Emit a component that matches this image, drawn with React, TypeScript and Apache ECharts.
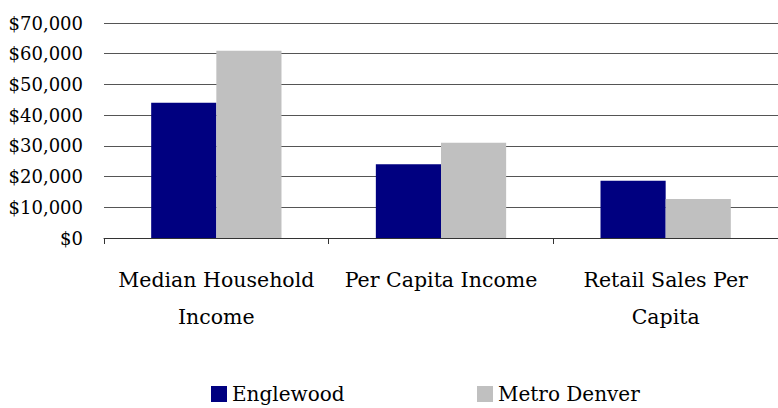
import React, { useEffect, useRef } from "react";
import * as echarts from "echarts";

const categories = ["Median Household\nIncome", "Per Capita Income", "Retail Sales Per\nCapita"];
const englewood = [44000, 24000, 18600];
const metroDenver = [61000, 31000, 12700];
const seriesNames = ["Englewood", "Metro Denver"];
const FONT = "DejaVu Serif";

export default function App() {
  const ref = useRef<HTMLDivElement>(null);
  useEffect(() => {
    if (!ref.current) return;
    const chart = echarts.init(ref.current, null, { renderer: "svg" });
    chart.setOption({
      animation: false,
      textStyle: { fontFamily: FONT },
      grid: { left: 104, right: 0, top: 23, bottom: 170 },
      legend: [
        {
          data: [seriesNames[0]],
          left: 206,
          top: 379,
          itemWidth: 16,
          itemHeight: 16,
          itemGap: 0,
          icon: "rect",
          textStyle: { fontFamily: FONT, fontSize: 20, color: "#000", padding: [0, 0, 0, 0] },
        },
        {
          data: [seriesNames[1]],
          left: 472,
          top: 379,
          itemWidth: 16,
          itemHeight: 16,
          itemGap: 0,
          icon: "rect",
          textStyle: { fontFamily: FONT, fontSize: 20, color: "#000", padding: [0, 0, 0, 0] },
        },
      ],
      xAxis: {
        type: "category",
        data: categories,
        axisLine: { show: true, lineStyle: { color: "#333", width: 1 } },
        axisTick: { show: true, length: 6, lineStyle: { color: "#333" } },
        axisLabel: {
          fontFamily: FONT,
          fontSize: 20.5,
          color: "#000",
          margin: 23,
          lineHeight: 37,
          interval: 0,
        },
      },
      yAxis: {
        type: "value",
        min: 0,
        max: 70000,
        interval: 10000,
        axisLine: { show: false },
        axisTick: { show: false },
        splitLine: { show: true, lineStyle: { color: "#555", width: 1 } },
        axisLabel: {
          fontFamily: FONT,
          fontSize: 18,
          color: "#000",
          margin: 21,
          formatter: (v: number) => "$" + v.toLocaleString("en-US"),
        },
      },
      series: [
        {
          name: seriesNames[0],
          type: "bar",
          data: englewood,
          barCategoryGap: "42%",
          barGap: "0%",
          itemStyle: { color: "#000080" },
        },
        {
          name: seriesNames[1],
          type: "bar",
          data: metroDenver,
          barCategoryGap: "42%",
          barGap: "0%",
          itemStyle: { color: "#C0C0C0" },
        },
      ],
    });
    return () => chart.dispose();
  }, []);
  return <div ref={ref} style={{ width: 778, height: 408, position: "absolute", left: 0, top: 0 }} />;
}
